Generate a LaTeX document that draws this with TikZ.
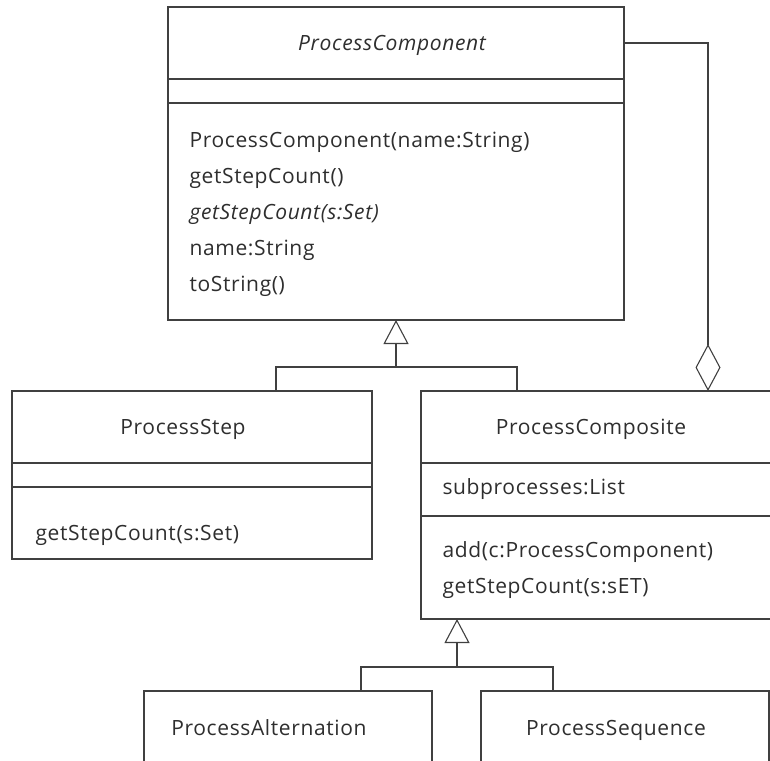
\documentclass[tikz,border=0pt]{standalone}
\usepackage{fontspec}
\setmainfont[LetterSpace=3]{Open Sans}
\usetikzlibrary{calc,arrows.meta}

\begin{document}
\begin{tikzpicture}[x=1pt,y=-1pt,line width=1.1pt,
    classbox/.style={draw=umlline,anchor=north west,inner sep=0pt,outer sep=0pt},
    title/.style={anchor=base,inner sep=0pt,text=umltext},
    member/.style={anchor=base west,inner sep=0pt,text=umltext},
    font=\fontsize{21}{24}\selectfont]

\definecolor{umlline}{rgb}{0.25,0.25,0.25}
\definecolor{umltext}{rgb}{0.18,0.18,0.18}
\def\genarrow{-{Triangle[open,width=25pt,length=24pt]}}

    \path[use as bounding box,clip] (0,0) rectangle (770,760);

    % class boxes
    \node[classbox,minimum width=456pt,minimum height=313pt] (pc) at (168,7) {};
    \node[classbox,minimum width=360pt,minimum height=168pt] (pstep) at (12,391) {};
    \node[classbox,minimum width=369pt,minimum height=228pt] (pcomp) at (421,391) {};
    \node[classbox,minimum width=288pt,minimum height=100pt] (palt) at (144,691) {};
    \node[classbox,minimum width=288pt,minimum height=100pt] (pseq) at (481,691) {};

    % compartments
    \foreach \y in {79,103}{
      \draw[umlline] (pc.west |- 0,\y) -- (pc.east |- 0,\y);
    }
    \foreach \y in {463,487}{
      \draw[umlline] (pstep.west |- 0,\y) -- (pstep.east |- 0,\y);
    }
    \foreach \y in {463,516}{
      \draw[umlline] (pcomp.west |- 0,\y) -- (pcomp.east |- 0,\y);
    }

    % names
    \node[title] (pctitle) at (392,50){\itshape ProcessComponent};
    \node[title] (psteptitle) at (183,434){ProcessStep};
    \node[title] (pcomptitle) at (591,434){ProcessComposite};
    \node[title] (palttitle) at (269,735){ProcessAlternation};
    \node[title] (pseqtitle) at (616,735){ProcessSequence};

    % members
    \foreach \txt [count=\i] in {ProcessComponent(name:String),getStepCount(),
        {\itshape getStepCount(s:Set)},name:String,toString()}{
      \node[member] (pcm\i) at (189,111+36*\i){\txt};
    }
    \node[member] (pstepm1) at (35,540){getStepCount(s:Set)};
    \node[member] (pcompa1) at (442,494){subprocesses:List};
    \node[member] (pcompm1) at (442,557){add(c:ProcessComponent)};
    \node[member] (pcompm2) at (442,593){getStepCount(s:sET)};

    % generalisation
    \coordinate (g1) at (396,367);
    \coordinate (g1l) at (276,367);
    \coordinate (g1r) at (517,367);
    \draw[umlline,\genarrow] (g1) -- (pc.south);
    \draw[umlline] (pstep.north -| g1l) -- (g1l) -- (g1r) -- (pcomp.north -| g1r);

    \coordinate (g2) at (457,667);
    \coordinate (g2l) at (361,667);
    \coordinate (g2r) at (553,667);
    \draw[umlline,\genarrow] (g2) -- (g2 |- pcomp.south);
    \draw[umlline] (palt.north -| g2l) -- (g2l) -- (g2r) -- (pseq.north -| g2r);

    % aggregation
    \coordinate (agg) at (708,43);
    \draw[umlline,{Diamond[open,width=25pt,length=47pt]}-] (pcomp.north -| agg) |- (pc.east |- agg);

\end{tikzpicture}
\end{document}
